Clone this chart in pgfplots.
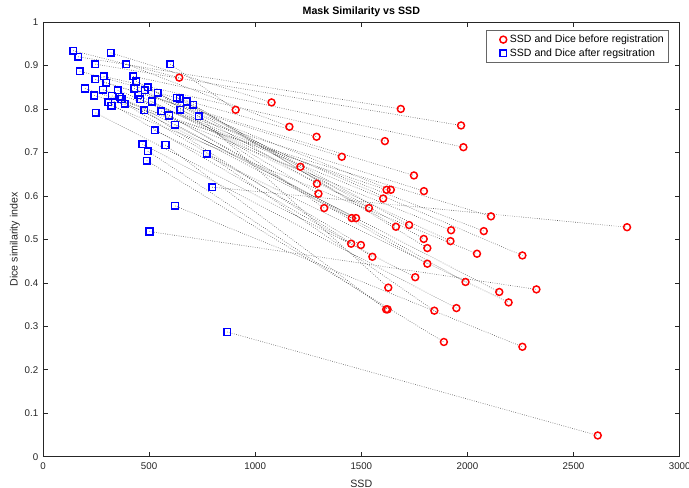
\documentclass[border=0pt]{standalone}
\usepackage{fontspec}
\setmainfont{Liberation Sans}
\usepackage{pgfplots}
\usepackage{pgfplotstable}
\pgfplotsset{compat=1.18}

% bx by = after registration, rx ry = before registration
\pgfplotstableread{
bx by rx ry
142 0.934 642 0.872
600 0.903 908 0.798
869 0.287 2614 0.049
622 0.577 2259 0.253
797 0.620 2752 0.528
502 0.518 2325 0.385
319 0.929 1077 0.815
166 0.920 1686 0.800
247 0.903 1970 0.762
392 0.903 1161 0.759
173 0.887 1289 0.736
286 0.875 1611 0.726
425 0.875 1981 0.712
247 0.868 1408 0.690
439 0.863 1213 0.667
298 0.860 1748 0.647
494 0.850 1291 0.628
198 0.847 1619 0.614
430 0.847 1639 0.614
283 0.844 1795 0.611
480 0.843 1298 0.605
352 0.843 1603 0.594
541 0.837 1325 0.572
449 0.832 1536 0.572
242 0.831 2111 0.553
325 0.830 1455 0.549
361 0.828 1475 0.549
631 0.826 1725 0.533
645 0.824 1663 0.529
370 0.823 1923 0.521
458 0.822 2077 0.519
678 0.817 1794 0.501
512 0.817 1920 0.496
308 0.815 1452 0.490
386 0.812 1498 0.487
708 0.810 1811 0.480
323 0.807 2045 0.467
647 0.798 2259 0.463
477 0.797 1552 0.460
558 0.795 1811 0.444
248 0.791 1754 0.413
594 0.785 1991 0.402
734 0.783 1627 0.389
622 0.764 2150 0.379
526 0.751 2194 0.355
469 0.719 1948 0.342
577 0.717 1617 0.339
494 0.703 1624 0.339
772 0.697 1844 0.336
489 0.681 1889 0.264
}\pairs

\begin{document}
\begin{tikzpicture}
\begin{axis}[
name=ax,
scale only axis,
width=477.75pt, height=326.25pt,
xmin=0, xmax=3000, ymin=0, ymax=1,
xtick={0,500,1000,1500,2000,2500,3000},
ytick={0,0.1,0.2,0.3,0.4,0.5,0.6,0.7,0.8,0.9,1},
yticklabels={0,0.1,0.2,0.3,0.4,0.5,0.6,0.7,0.8,0.9,1},
/pgf/number format/1000 sep={},
/pgf/number format/assume math mode=true,
tick label style={font=\fontsize{7.3}{9}\selectfont, text=black!85},
xticklabel style={yshift=-1pt},
major tick length=3.8pt,
tick style={black!85, line width=0.5pt},
axis line style={black!85, line width=0.5pt},
xlabel={SSD},
ylabel={Dice similarity index},
label style={font=\fontsize{8}{9}\selectfont, text=black!85},
xlabel style={at={(axis description cs:0.5,-0.062)}, anchor=center},
ylabel style={at={(axis description cs:-0.044,0.5)}, anchor=center},
legend style={at={(0.983,0.982)}, anchor=north east, font=\fontsize{7.9}{9}\selectfont,
  draw=black!60, line width=0.5pt, inner sep=1.5pt, row sep=-1pt},
legend cell align=left,
legend image code/.code={\path[draw=none, fill=none] (-13pt,0pt) -- (1pt,0pt);
  \draw[#1, only marks] plot coordinates {(-2pt,0pt)};},
]
\addplot[forget plot, black!65, line width=0.45pt, dash pattern=on 0.5pt off 1.2pt,
  quiver={u=\thisrow{rx}-\thisrow{bx}, v=\thisrow{ry}-\thisrow{by}}]
  table[x=bx, y=by] {\pairs};
\addplot[only marks, mark=o, mark size=2.6pt, red, line width=1.1pt] table[x=rx, y=ry] {\pairs};
\addplot[only marks, mark=square, mark size=2.5pt, blue, line width=1.1pt] table[x=bx, y=by] {\pairs};
\addlegendentry{SSD and Dice before registration}
\addlegendentry{SSD and Dice after regsitration}
\end{axis}
\node[font=\fontsize{8}{9}\selectfont\bfseries, anchor=center] at ([yshift=7.5pt]ax.north) {Mask Similarity vs SSD};
\pgfresetboundingbox
\path[use as bounding box] ([xshift=-32.25pt,yshift=-23.25pt]ax.south west) rectangle ([xshift=7pt,yshift=16.5pt]ax.north east);
\end{tikzpicture}
\end{document}
